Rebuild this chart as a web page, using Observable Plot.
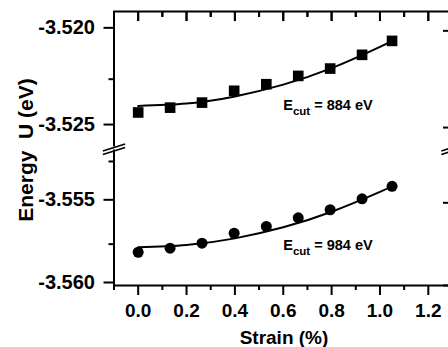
<!DOCTYPE html>
<html><head><meta charset="utf-8">
<script src="https://cdn.jsdelivr.net/npm/d3@7"></script>
<script src="https://cdn.jsdelivr.net/npm/@observablehq/plot@0.6"></script>
<style>
html,body{margin:0;padding:0;background:#fff;overflow:hidden;}
#chart{position:relative;width:448px;height:347px;overflow:hidden;font-family:"Liberation Sans",Arial,sans-serif;background:#fff;}
#chart svg{position:absolute;left:0;overflow:visible;}
.lab{position:absolute;font-weight:bold;white-space:pre;color:#000;line-height:1;font-family:"Liberation Sans",Arial,sans-serif;}
</style></head><body><div id="chart"></div>
<script>
// ---- data ----
const strain = [0, 0.132, 0.264, 0.397, 0.53, 0.662, 0.794, 0.926, 1.05];
const energy884 = [-3.52422, -3.52397, -3.52371, -3.52310, -3.52276, -3.52233, -3.52195, -3.52124, -3.52052];
const energy984 = [-3.55799, -3.55774, -3.55744, -3.55684, -3.55643, -3.55591, -3.55542, -3.55476, -3.55400];
const fitStrain = [0, 0.2, 0.4, 0.6, 0.8, 1.0, 1.05];
const fit884 = [-3.52388, -3.52376, -3.52339, -3.52278, -3.52193, -3.52083, -3.52052];
const fit984 = [-3.55768, -3.55755, -3.55715, -3.55648, -3.55554, -3.55434, -3.55400];
const xTicks = [0, 0.2, 0.4, 0.6, 0.8, 1.0, 1.2];
const xMinor = [-0.1, 0.1, 0.3, 0.5, 0.7, 0.9, 1.1];
const xDomain = [-0.1, 1.3];
const topDomain = [-3.526, -3.519];
const botDomain = [-3.560, -3.5518];
const topTicks = [-3.520, -3.525];
const topMinor = [-3.5225];
const botTicks = [-3.555, -3.560];
const botMinor = [-3.5525, -3.5575];
const topMajorEnd = -3.51952;  // inner end of major ticks on the top edge
const topMinorEnd = -3.51931;  // inner end of minor ticks on the top edge
const cutLabels = ["884", "984"];
const labelX = [0.6, 0.6];
const labelY = [-3.52408, -3.55788];
const breakEdges = [-0.1, 1.3];
const breakHalf = 0.046;
const breakY1 = [-3.55187, -3.55208];
const breakY2 = [-3.55144, -3.55166];

const W = 452;
const TOP_H = 147, BOT_H = 200;
const PANEL_H = 135.4;
const svgStyle = {fontFamily: "Liberation Sans, Arial, sans-serif", background: "transparent", overflow: "visible", maxWidth: "none", color: "black"};
const pts = (xs, ys) => xs.map((x, i) => ({x, y: ys[i]}));
const topTickRows = [
  ...xTicks.map(x => ({x, y1: topDomain[1], y2: topMajorEnd})),
  ...xMinor.map(x => ({x, y1: topDomain[1], y2: topMinorEnd}))
];

function ecut(i) {
  const data = [{x: labelX[i], y: labelY[i], v: cutLabels[i]}];
  return Plot.text(data, {
    x: "x", y: "y", text: () => "E", textAnchor: "start", lineAnchor: "bottom",
    fontSize: 14.5, fontWeight: "bold", fill: "black",
    render(index, scales, values, dims, ctx, next) {
      const g = next(index, scales, values, dims, ctx);
      d3.select(g).selectAll("text").each(function(_, j) {
        const t = d3.select(this);
        const d = data[index[j]];
        t.text(null);
        t.append("tspan").text("E");
        t.append("tspan").attr("font-size", 11.5).attr("dy", 5).text("cut");
        t.append("tspan").attr("dy", -5).text(" = " + d.v + " eV");
      });
      return g;
    }
  });
}

function slashes() {
  const d = [];
  breakEdges.forEach(e => breakY1.forEach((y1, k) => d.push({x1: e - breakHalf, x2: e + breakHalf, y1, y2: breakY2[k]})));
  return Plot.link(d, {x1: "x1", x2: "x2", y1: "y1", y2: "y2", stroke: "black", strokeWidth: 1.6, clip: false});
}

const common = {width: W, marginLeft: 113.5, marginRight: 0, style: svgStyle};

const topPlot = Plot.plot({
  ...common, height: TOP_H, marginTop: 11, marginBottom: TOP_H - 146.4,
  x: {domain: xDomain, axis: null}, y: {domain: topDomain, axis: null},
  marks: [
    Plot.ruleX(xDomain, {strokeWidth: 2}),
    Plot.ruleY([topDomain[1]], {strokeWidth: 2}),
    Plot.tickX(xTicks, {x: d => d, insetBottom: PANEL_H - 10, strokeWidth: 2, stroke: "black"}),
    Plot.tickX(xMinor, {x: d => d, insetBottom: PANEL_H - 6, strokeWidth: 2, stroke: "black"}),
    Plot.ruleX(topTickRows, {x: "x", y1: "y1", y2: "y2", strokeWidth: 2, stroke: "black"}),
    Plot.axisY({anchor: "left", ticks: topTicks, tickSize: 10, tickPadding: 9, tickFormat: d => d.toFixed(3), fontSize: 20, fontWeight: "bold", strokeWidth: 2, label: null, dy: -3}),
    Plot.axisY({anchor: "left", ticks: topMinor, tickSize: 5, tickFormat: () => "", strokeWidth: 2, label: null}),
    Plot.axisY({anchor: "right", ticks: topTicks, tickSize: -10, tickFormat: () => "", strokeWidth: 2, label: null}),
    Plot.axisY({anchor: "right", ticks: topMinor, tickSize: -5, tickFormat: () => "", strokeWidth: 2, label: null}),
    Plot.line(pts(fitStrain, fit884), {x: "x", y: "y", curve: "natural", stroke: "black", strokeWidth: 2}),
    Plot.dot(pts(strain, energy884), {x: "x", y: "y", symbol: "square", r: 6, fill: "black"}),
    ecut(0)
  ]
});

const botPlot = Plot.plot({
  ...common, height: BOT_H, marginTop: 149.4 - TOP_H, marginBottom: 62,
  x: {domain: xDomain, axis: null}, y: {domain: botDomain, axis: null},
  marks: [
    Plot.ruleX(xDomain, {strokeWidth: 2}),
    Plot.ruleY([botDomain[0]], {strokeWidth: 2}),
    Plot.axisY({anchor: "left", ticks: botTicks, tickSize: 10, tickPadding: 9, tickFormat: d => d.toFixed(3), fontSize: 20, fontWeight: "bold", strokeWidth: 2, label: null, dy: -3}),
    Plot.axisY({anchor: "left", ticks: botMinor, tickSize: 5, tickFormat: () => "", strokeWidth: 2, label: null}),
    Plot.axisY({anchor: "right", ticks: botTicks, tickSize: -10, tickFormat: () => "", strokeWidth: 2, label: null}),
    Plot.axisY({anchor: "right", ticks: botMinor, tickSize: -5, tickFormat: () => "", strokeWidth: 2, label: null}),
    Plot.axisX({anchor: "bottom", ticks: xTicks, tickSize: 10, tickPadding: 8, tickFormat: d => d.toFixed(1), fontSize: 19, fontWeight: "bold", strokeWidth: 2, label: null}),
    Plot.axisX({anchor: "bottom", ticks: xMinor, tickSize: 5, tickFormat: () => "", strokeWidth: 2, label: null}),
    Plot.line(pts(fitStrain, fit984), {x: "x", y: "y", curve: "natural", stroke: "black", strokeWidth: 2}),
    Plot.dot(pts(strain, energy984), {x: "x", y: "y", symbol: "circle", r: 5.5, fill: "black"}),
    ecut(1),
    slashes()
  ]
});

topPlot.style.top = "0px";
botPlot.style.top = TOP_H + "px";
const chart = document.getElementById("chart");
chart.appendChild(botPlot);
chart.appendChild(topPlot);

const yl = document.createElement("div");
yl.className = "lab";
yl.style.cssText = "left:25px;top:150px;font-size:21px;transform:translate(-50%,-50%) rotate(-90deg);";
yl.textContent = "Energy  U (eV)";
chart.appendChild(yl);

const xl = document.createElement("div");
xl.className = "lab";
xl.style.cssText = "left:284px;top:328px;font-size:19px;transform:translateX(-50%);";
xl.textContent = "Strain (%)";
chart.appendChild(xl);
</script></body></html>
